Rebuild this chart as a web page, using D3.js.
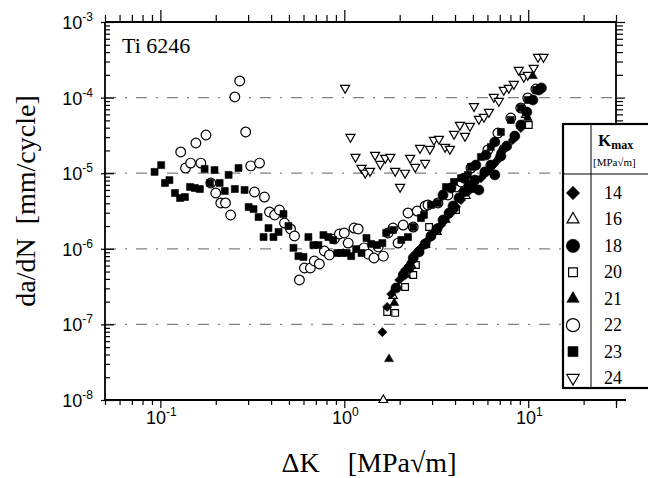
<!DOCTYPE html>
<html>
<head>
<meta charset="utf-8">
<script src="https://cdn.jsdelivr.net/npm/d3@7"></script>
<style>
  body { margin: 0; background: #fff; }
  svg { display: block; }
</style>
</head>
<body>
<div id="chart"></div>
<script>
// Ti 6246 crack growth data, one array per Kmax level: [deltaK MPa√m, da/dN mm/cycle]
const kmax14 = [[1.61,7.9e-8],[1.71,1.70e-7],[1.80,2.52e-7],[1.99,3.87e-7],[2.14,5.24e-7],[2.25,6.0e-7],[2.31,6.69e-7],[2.45,8.8e-7],[2.61,1.03e-6],[2.70,1.12e-6],[2.85,1.31e-6],[3.07,1.67e-6],[3.20,1.9e-6],[3.36,2.06e-6],[3.66,2.72e-6],[3.95,3.26e-6],[4.05,3.6e-6],[4.31,4.42e-6],[4.70,5.64e-6],[4.90,6.4e-6],[5.07,6.77e-6],[5.53,8.6e-6],[5.80,9.8e-6],[6.11,1.10e-5],[6.50,1.3e-5],[6.84,1.50e-5],[7.36,2.03e-5],[8.24,2.75e-5],[9.11,3.96e-5]];
const kmax16 = [[1.63,1.0e-8],[1.84,2.38e-7],[2.31,6.1e-7],[3.19,1.67e-6],[4.58,4.99e-6],[6.84,1.59e-5],[9.69,5.89e-5]];
const kmax18 = [[1.91,3.03e-7],[2.09,4.50e-7],[2.25,5.57e-7],[2.37,7.56e-7],[2.55,9.1e-7],[2.75,1.16e-6],[2.96,1.48e-6],[3.19,1.83e-6],[3.44,2.40e-6],[3.71,2.98e-6],[3.90,3.68e-6],[4.20,4.70e-6],[4.47,5.64e-6],[4.76,6.98e-6],[5.13,8.1e-6],[5.39,6.0e-6],[5.81,1.04e-5],[6.26,1.28e-5],[6.58,9.5e-6],[7.10,1.69e-5],[7.64,2.29e-5],[8.45,3.10e-5],[9.11,4.35e-5],[9.82,6.45e-5],[10.6,9.3e-5],[11.4,1.26e-4],[11.8,1.34e-4],[3.44,5.15e-6],[3.80,6.37e-6],[4.47,8.6e-6],[5.19,1.28e-5],[5.89,1.74e-5],[6.58,2.59e-5]];
const kmax20 = [[1.71,1.46e-7],[1.89,1.42e-7],[2.14,3.12e-7],[2.37,4.50e-7],[2.45,6.1e-7],[2.89,1.94e-6],[4.05,3.26e-6],[10.07,4.35e-5]];
const kmax21 = [[1.75,3.48e-8],[1.87,1.92e-7],[2.17,4.50e-7],[2.78,1.12e-6],[3.57,2.40e-6],[4.88,6.0e-6],[7.10,2.03e-5],[9.94,5.37e-5],[10.6,1.93e-4]];
const kmax22 = [[0.129,1.91e-5],[0.137,1.17e-5],[0.146,1.36e-5],[0.156,2.51e-5],[0.166,1.36e-5],[0.177,3.20e-5],[0.188,7.42e-6],[0.200,5.47e-6],[0.213,4.04e-6],[0.226,4.04e-6],[0.241,2.80e-6],[0.254,1.02e-4],[0.270,1.66e-4],[0.291,3.51e-5],[0.310,1.25e-5],[0.346,1.36e-5],[0.325,5.64e-6],[0.368,4.84e-6],[0.392,3.07e-6],[0.418,2.80e-6],[0.444,3.26e-6],[0.473,2.19e-6],[0.510,1.83e-6],[0.536,1.48e-6],[0.570,3.87e-7],[0.607,5.57e-7],[0.654,5.57e-7],[0.687,6.9e-7],[0.732,6.3e-7],[0.779,9.35e-7],[0.830,8.3e-7],[0.883,1.35e-6],[0.940,1.57e-6],[1.00,1.62e-6],[1.05,1.19e-6],[1.13,1.88e-6],[1.19,1.83e-6],[1.28,1.03e-6],[1.35,8.5e-7],[1.45,7.56e-7],[1.53,1.06e-6],[1.63,8.0e-7],[1.73,1.62e-6],[1.84,1.88e-6],[1.96,1.19e-6],[2.09,2.06e-6],[2.22,2.98e-6],[2.37,1.94e-6],[2.49,3.16e-6],[2.75,3.68e-6],[2.85,3.80e-6],[3.23,4.04e-6],[3.66,5.15e-6],[4.05,6.57e-6],[4.31,7.65e-6],[4.88,1.17e-5],[6.03,2.03e-5],[6.84,3.40e-5],[8.04,5.37e-5],[9.11,7.3e-5],[9.94,9.9e-5],[11.0,1.30e-4]];
const kmax23 = [[0.093,1.04e-5],[0.101,1.28e-5],[0.106,7.42e-6],[0.112,8.1e-6],[0.120,5.47e-6],[0.128,4.70e-6],[0.136,4.84e-6],[0.145,6.57e-6],[0.154,6.37e-6],[0.164,6.18e-6],[0.174,1.14e-5],[0.186,7.42e-6],[0.197,1.10e-5],[0.210,7.42e-6],[0.224,5.82e-6],[0.235,9.5e-6],[0.254,6.18e-6],[0.266,1.17e-5],[0.287,6.00e-6],[0.302,3.57e-6],[0.321,3.36e-6],[0.342,2.63e-6],[0.364,1.43e-6],[0.387,1.88e-6],[0.412,1.43e-6],[0.439,1.67e-6],[0.467,2.89e-6],[0.497,2.00e-6],[0.529,1.03e-6],[0.563,8.0e-7],[0.600,7.8e-7],[0.638,1.43e-6],[0.679,1.12e-6],[0.723,1.12e-6],[0.770,1.52e-6],[0.819,1.43e-6],[0.871,1.31e-6],[0.916,8.8e-7],[0.963,8.8e-7],[1.03,8.8e-7],[1.09,8.0e-7],[1.16,9.9e-7],[1.24,8.8e-7],[1.32,1.39e-6],[1.40,1.16e-6],[1.51,1.12e-6],[1.61,1.19e-6],[1.69,1.62e-6],[1.84,1.77e-6],[2.04,1.31e-6],[2.22,1.43e-6],[2.37,1.94e-6],[2.61,2.55e-6],[2.71,2.80e-6],[2.96,3.80e-6],[3.23,4.04e-6],[3.57,6.57e-6],[3.95,7.65e-6],[4.31,8.6e-6],[4.70,9.5e-6],[4.88,1.21e-5],[5.53,1.64e-5],[6.26,2.22e-5],[7.10,3.51e-5],[8.04,5.06e-5],[9.11,7.3e-5],[9.94,9.3e-5],[11.0,1.26e-4]];
const kmax24 = [[1.01,1.34e-4],[1.08,3.01e-5],[1.15,1.64e-5],[1.24,1.17e-5],[1.30,1.01e-5],[1.38,1.07e-5],[1.47,1.74e-5],[1.57,1.32e-5],[1.67,1.59e-5],[1.78,1.64e-5],[1.89,1.07e-5],[2.01,6.57e-6],[2.14,1.01e-5],[2.28,1.59e-5],[2.43,1.21e-5],[2.58,2.15e-5],[2.75,1.36e-5],[2.92,2.09e-5],[3.07,2.75e-5],[3.27,2.83e-5],[3.53,2.22e-5],[3.75,2.09e-5],[3.95,3.30e-5],[4.25,4.35e-5],[4.53,3.10e-5],[4.82,4.21e-5],[5.07,7.7e-5],[5.39,5.21e-5],[5.74,5.54e-5],[6.11,6.45e-5],[6.50,1.02e-4],[6.92,9.0e-5],[7.36,1.26e-4],[7.84,1.34e-4],[8.35,1.51e-4],[8.88,2.32e-4],[9.46,1.87e-4],[9.94,1.99e-4],[10.7,2.47e-4],[11.3,3.44e-4],[12.1,3.44e-4]];

const kmaxLabels = ["14", "16", "18", "20", "21", "22", "23", "24"];
const xMajorTicks = [0.1, 1, 10];
const yMajorTicks = [1e-8, 1e-7, 1e-6, 1e-5, 1e-4, 1e-3];
const yGridTicks = [1e-7, 1e-6, 1e-5, 1e-4];

const width = 648, height = 478;
const margin = { top: 22, right: 32, bottom: 78, left: 105 };
const serif = "'Liberation Serif', 'Times New Roman', serif";
const sans = "'Liberation Sans', Arial, sans-serif";

const svg = d3.select("#chart").append("svg")
    .attr("width", width)
    .attr("height", height);

const x = d3.scaleLog().domain([0.05, 30]).range([margin.left, width - margin.right]);
const y = d3.scaleLog().domain([1e-8, 1e-3]).range([height - margin.bottom, margin.top]);

const isMajor = d => Math.abs(Math.log10(d) - Math.round(Math.log10(d))) < 1e-9;
const xMinor = x.ticks().filter(d => !isMajor(d));
const yMinor = y.ticks().filter(d => !isMajor(d));

// dash-dot grid lines at the decades
svg.append("g")
    .selectAll("line")
    .data(yGridTicks)
    .join("line")
    .attr("x1", x.range()[0])
    .attr("x2", x.range()[1])
    .attr("y1", d => y(d))
    .attr("y2", d => y(d))
    .attr("stroke", "#808080")
    .attr("stroke-width", 1.2)
    .attr("stroke-dasharray", "11,9,2,9");

// axes: bottom / top / left / right, each with minor and major ticks
const bottomY = y.range()[0], topY = y.range()[1];
const leftX = x.range()[0], rightX = x.range()[1];
const legendTop = 124;

function styleAxis(g) {
    g.select(".domain").remove();
    g.selectAll(".tick line").attr("stroke", "#000").attr("stroke-width", 1.2);
}

svg.append("g").attr("transform", `translate(0,${bottomY})`)
    .call(d3.axisBottom(x).tickValues(xMinor).tickSize(5).tickFormat(""))
    .call(styleAxis);
svg.append("g").attr("transform", `translate(0,${bottomY})`)
    .call(d3.axisBottom(x).tickValues([...xMajorTicks, 30]).tickSize(8).tickFormat(""))
    .call(styleAxis);
svg.append("g").attr("transform", `translate(0,${topY})`)
    .call(d3.axisTop(x).tickValues(xMinor).tickSize(7).tickFormat(""))
    .call(styleAxis);
svg.append("g").attr("transform", `translate(0,${topY})`)
    .call(d3.axisTop(x).tickValues(xMajorTicks).tickSize(12).tickFormat(""))
    .call(styleAxis);
svg.append("g").attr("transform", `translate(${leftX},0)`)
    .call(d3.axisLeft(y).tickValues(yMinor).tickSize(-5).tickFormat(""))
    .call(styleAxis);
svg.append("g").attr("transform", `translate(${leftX},0)`)
    .call(d3.axisLeft(y).tickValues(yMajorTicks).tickSize(-9).tickFormat(""))
    .call(styleAxis);
svg.append("g").attr("transform", `translate(${leftX},0)`)
    .call(d3.axisLeft(y).tickValues(yMajorTicks).tickSize(4).tickFormat(""))
    .call(styleAxis);
svg.append("g").attr("transform", `translate(${rightX},0)`)
    .call(d3.axisRight(y).tickValues(yMinor.filter(d => y(d) < legendTop - 2)).tickSize(7).tickFormat(""))
    .call(styleAxis);
svg.append("g").attr("transform", `translate(${rightX},0)`)
    .call(d3.axisRight(y).tickValues(yMajorTicks.filter(d => y(d) < legendTop - 2)).tickSize(9).tickFormat(""))
    .call(styleAxis);

// frame lines
const frame = svg.append("g").attr("stroke", "#000").attr("stroke-width", 1.8).attr("fill", "none");
frame.append("line").attr("x1", leftX).attr("x2", leftX).attr("y1", topY).attr("y2", bottomY);
frame.append("line").attr("x1", leftX).attr("x2", rightX + 10).attr("y1", bottomY).attr("y2", bottomY);
frame.append("line").attr("x1", leftX).attr("x2", rightX).attr("y1", topY).attr("y2", topY);
frame.append("line").attr("x1", rightX).attr("x2", rightX).attr("y1", topY).attr("y2", legendTop);

// power-of-ten tick labels
function powerLabel(sel, d) {
    sel.text("10")
        .append("tspan")
        .attr("dy", -8)
        .attr("font-size", 12)
        .text(Math.round(Math.log10(d)));
}

svg.append("g")
    .selectAll("text")
    .data(yMajorTicks)
    .join("text")
    .attr("x", leftX - 12)
    .attr("y", d => y(d) + 7)
    .attr("text-anchor", "end")
    .attr("font-family", sans)
    .attr("font-size", 18)
    .each(function (d) { powerLabel(d3.select(this), d); });

svg.append("g")
    .selectAll("text")
    .data(xMajorTicks)
    .join("text")
    .attr("x", d => x(d) + 1)
    .attr("y", bottomY + 24)
    .attr("text-anchor", "middle")
    .attr("font-family", sans)
    .attr("font-size", 18)
    .each(function (d) { powerLabel(d3.select(this), d); });

// axis titles
svg.append("text")
    .attr("transform", `translate(35, ${(topY + bottomY) / 2 - 10}) rotate(-90)`)
    .attr("text-anchor", "middle")
    .attr("font-family", serif)
    .attr("font-size", 28)
    .text("da/dN")
    .append("tspan").attr("dx", 14).text("[mm/cycle]");

svg.append("text")
    .attr("x", 369)
    .attr("y", 472)
    .attr("text-anchor", "middle")
    .attr("font-family", serif)
    .attr("font-size", 28)
    .text("\u0394K")
    .append("tspan").attr("dx", 28).text("[MPa\u221Am]");

svg.append("text")
    .attr("x", 122)
    .attr("y", 53)
    .attr("font-family", serif)
    .attr("font-size", 22)
    .text("Ti 6246");

// marker styles per Kmax
const markerStyles = {
    "14": { type: d3.symbolSquare, rotate: 45, filled: true, size: 42, legendSize: 88 },
    "16": { type: d3.symbolTriangle, rotate: 0, filled: false, size: 32, legendSize: 62 },
    "18": { type: d3.symbolCircle, rotate: 0, filled: true, size: 80, legendSize: 140 },
    "20": { type: d3.symbolSquare, rotate: 0, filled: false, size: 45, legendSize: 78 },
    "21": { type: d3.symbolTriangle, rotate: 0, filled: true, size: 34, legendSize: 66 },
    "22": { type: d3.symbolCircle, rotate: 0, filled: false, size: 74, legendSize: 136 },
    "23": { type: d3.symbolSquare, rotate: 0, filled: true, size: 49, legendSize: 100 },
    "24": { type: d3.symbolTriangle, rotate: 180, filled: false, size: 36, legendSize: 66 }
};

const seriesData = {
    "14": kmax14, "16": kmax16, "18": kmax18, "20": kmax20,
    "21": kmax21, "22": kmax22, "23": kmax23, "24": kmax24
};

const drawOrder = ["24", "22", "23", "20", "16", "14", "18", "21"];

const points = svg.append("g");
drawOrder.forEach(key => {
    const s = markerStyles[key];
    points.append("g")
        .selectAll("path")
        .data(seriesData[key])
        .join("path")
        .attr("d", d3.symbol().type(s.type).size(s.size))
        .attr("transform", d => `translate(${x(d[0])},${y(d[1])}) rotate(${s.rotate})`)
        .attr("fill", s.filled ? "#000" : "#fff")
        .attr("stroke", "#000")
        .attr("stroke-width", s.filled ? 0.6 : 1.2);
});

// legend table (runs past the right edge of the page)
const legend = svg.append("g");
const legendLeft = 563, legendBottom = 388, legendDivider = 591, headerLine = 174;
legend.append("rect")
    .attr("x", legendLeft)
    .attr("y", legendTop)
    .attr("width", 120)
    .attr("height", legendBottom - legendTop)
    .attr("fill", "#fff")
    .attr("stroke", "#000")
    .attr("stroke-width", 2.2);
legend.append("line")
    .attr("x1", legendDivider).attr("x2", legendDivider)
    .attr("y1", legendTop).attr("y2", legendBottom)
    .attr("stroke", "#000").attr("stroke-width", 1);
legend.append("line")
    .attr("x1", legendLeft).attr("x2", width)
    .attr("y1", headerLine).attr("y2", headerLine)
    .attr("stroke", "#000").attr("stroke-width", 1);

const kText = legend.append("text")
    .attr("x", 598)
    .attr("y", 146)
    .attr("font-family", serif)
    .attr("font-weight", "bold")
    .attr("font-size", 17)
    .text("K");
kText.append("tspan").attr("dy", 3).attr("font-size", 12).text("max");
legend.append("text")
    .attr("x", 593)
    .attr("y", 166)
    .attr("font-family", serif)
    .attr("font-size", 11)
    .text("[MPa\u221Am]");

const rowY = d3.scalePoint().domain(kmaxLabels).range([193, 378]);
const rows = legend.selectAll(".row")
    .data(kmaxLabels)
    .join("g")
    .attr("class", "row")
    .attr("transform", d => `translate(0,${rowY(d)})`);
rows.append("path")
    .attr("d", d => d3.symbol().type(markerStyles[d].type).size(markerStyles[d].legendSize)())
    .attr("transform", d => `translate(573,0) rotate(${markerStyles[d].rotate})`)
    .attr("fill", d => markerStyles[d].filled ? "#000" : "#fff")
    .attr("stroke", "#000")
    .attr("stroke-width", d => markerStyles[d].filled ? 0.6 : 1.2);
rows.append("text")
    .attr("x", 604)
    .attr("y", 6)
    .attr("font-family", serif)
    .attr("font-size", 18)
    .text(d => d);
</script>
</body>
</html>
